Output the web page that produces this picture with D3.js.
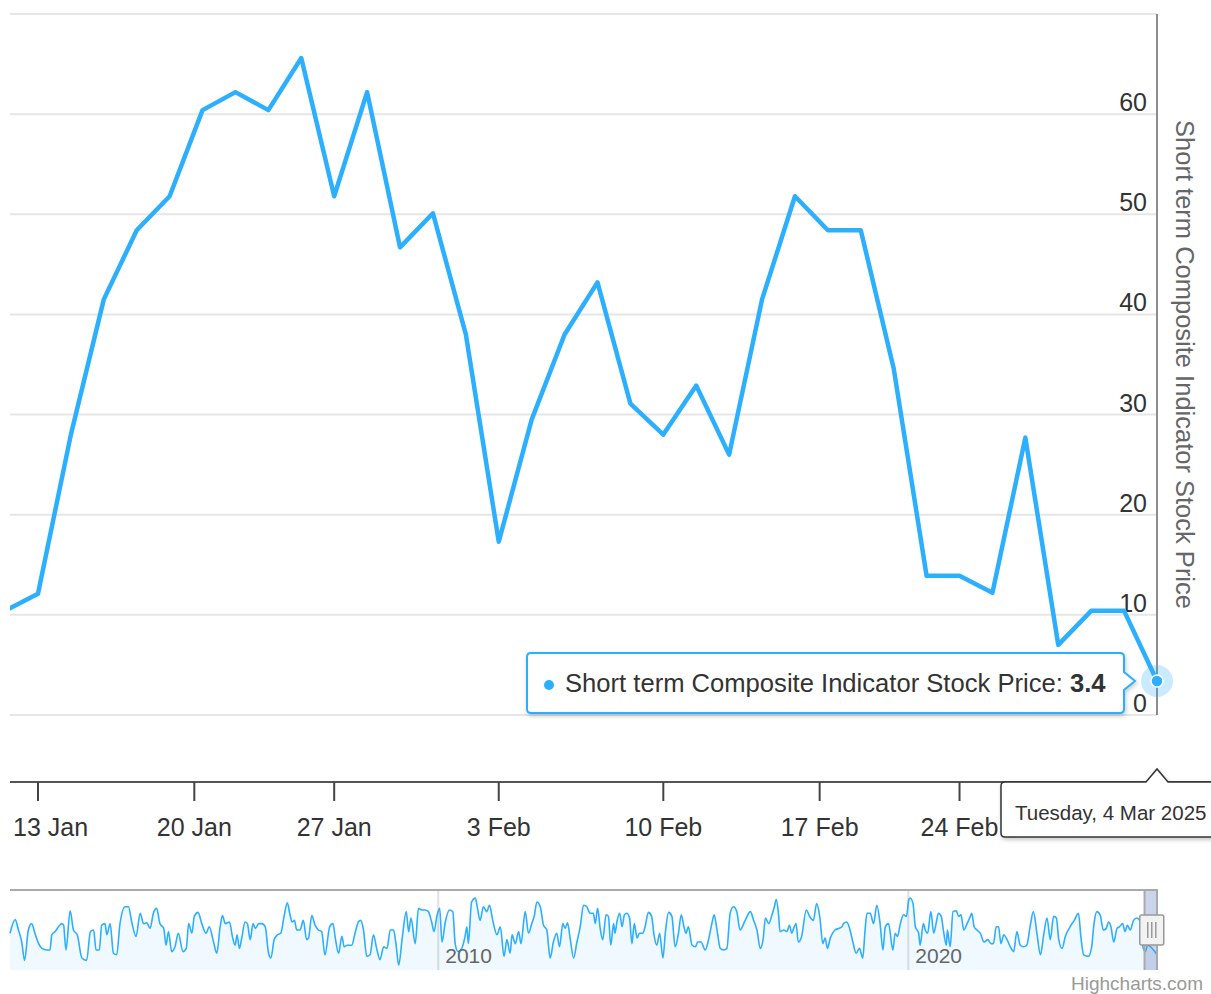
<!DOCTYPE html>
<html><head><meta charset="utf-8">
<script src="https://cdn.jsdelivr.net/npm/d3@7"></script>
<style>
html,body{margin:0;padding:0;background:#fff;}
svg{display:block;font-family:"Liberation Sans",Arial,Helvetica,sans-serif;}
</style></head><body>
<svg id="c" width="1211" height="994"></svg>
<script>
// ---- main series (trading days) ----
const dates = ["2025-01-10","2025-01-13","2025-01-14","2025-01-15","2025-01-16","2025-01-17","2025-01-21","2025-01-22","2025-01-23","2025-01-24","2025-01-27","2025-01-28","2025-01-29","2025-01-30","2025-01-31","2025-02-03","2025-02-04","2025-02-05","2025-02-06","2025-02-07","2025-02-10","2025-02-11","2025-02-12","2025-02-13","2025-02-14","2025-02-18","2025-02-19","2025-02-20","2025-02-21","2025-02-24","2025-02-25","2025-02-26","2025-02-27","2025-02-28","2025-03-03","2025-03-04"];
const values = [10.4,12.1,28.0,41.5,48.4,51.8,60.4,62.2,60.4,65.6,51.8,62.2,46.7,50.1,38.0,17.3,29.5,38.0,43.2,31.1,28.0,32.9,26.0,41.5,51.8,48.4,48.4,34.6,13.9,13.9,12.2,27.7,7.0,10.4,10.4,3.4];
const seriesName = "Short term Composite Indicator Stock Price";
const xTickDates = ["2025-01-13","2025-01-20","2025-01-27","2025-02-03","2025-02-10","2025-02-17","2025-02-24"];
const yGridTicks = [0,10,20,30,40,50,60,70];
const yLabelTicks = [0,10,20,30,40,50,60];

// ---- navigator series (decimal years, values) ----
const navYear = [2000.89,2001.00,2001.07,2001.14,2001.20,2001.28,2001.35,2001.42,2001.50,2001.57,2001.67,2001.74,2001.78,2001.85,2001.92,2001.99,2002.03,2002.08,2002.17,2002.24,2002.32,2002.42,2002.52,2002.60,2002.67,2002.72,2002.79,2002.84,2002.91,2002.95,2003.02,2003.09,2003.16,2003.23,2003.34,2003.41,2003.48,2003.57,2003.66,2003.73,2003.80,2003.87,2003.94,2004.01,2004.08,2004.16,2004.21,2004.26,2004.33,2004.40,2004.47,2004.57,2004.64,2004.69,2004.76,2004.81,2004.89,2004.97,2005.06,2005.13,2005.22,2005.29,2005.36,2005.41,2005.47,2005.56,2005.62,2005.68,2005.72,2005.77,2005.82,2005.89,2005.94,2006.00,2006.06,2006.11,2006.18,2006.25,2006.32,2006.39,2006.44,2006.51,2006.58,2006.65,2006.72,2006.79,2006.84,2006.89,2006.94,2006.99,
2007.06,2007.13,2007.20,2007.24,2007.31,2007.38,2007.45,2007.52,2007.59,2007.69,2007.76,2007.81,2007.88,2007.95,2008.00,2008.06,2008.16,2008.23,2008.30,2008.35,2008.41,2008.48,2008.55,2008.62,2008.69,2008.76,2008.84,2008.91,2008.98,2009.05,2009.10,2009.16,2009.23,2009.32,2009.37,2009.42,2009.51,2009.58,2009.65,2009.72,2009.79,2009.86,2009.91,2009.97,2010.03,2010.08,2010.15,2010.24,2010.31,2010.36,2010.42,2010.50,2010.57,2010.61,2010.64,2010.71,2010.79,2010.83,2010.89,2010.96,2011.03,2011.09,2011.16,2011.25,2011.32,2011.40,2011.46,2011.53,2011.57,2011.64,2011.71,2011.76,2011.85,2011.92,2011.99,2012.04,2012.10,2012.17,2012.24,2012.31,2012.38,2012.45,2012.52,2012.58,2012.65,2012.70,2012.75,2012.81,2012.88,2012.95,2013.02,2013.09,2013.16,2013.23,
2013.30,2013.34,2013.39,2013.45,2013.50,2013.57,2013.62,2013.67,2013.73,2013.76,2013.80,2013.86,2013.91,2013.96,2014.01,2014.07,2014.12,2014.17,2014.23,2014.28,2014.35,2014.40,2014.47,2014.54,2014.59,2014.65,2014.71,2014.78,2014.83,2014.90,2014.97,2015.04,2015.11,2015.17,2015.22,2015.27,2015.32,2015.40,2015.47,2015.52,2015.59,2015.68,2015.75,2015.82,2015.87,2015.93,2016.00,2016.07,2016.14,2016.21,2016.28,2016.35,2016.42,2016.53,2016.64,2016.71,2016.78,2016.85,2016.91,2016.96,2017.03,2017.10,2017.15,2017.19,2017.24,2017.27,2017.35,2017.42,2017.47,2017.52,2017.56,2017.61,2017.66,2017.73,2017.83,2017.90,2017.98,2018.05,2018.12,2018.18,2018.23,2018.28,2018.34,2018.39,2018.44,2018.52,2018.59,2018.62,2018.69,2018.76,2018.82,2018.89,2018.96,2019.03,2019.08,2019.12,2019.19,2019.26,2019.33,2019.40,
2019.46,2019.51,2019.58,2019.67,2019.72,2019.77,2019.83,2019.90,2019.96,2020.01,2020.04,2020.10,2020.15,2020.22,2020.25,2020.32,2020.36,2020.41,2020.48,2020.54,2020.59,2020.64,2020.70,2020.75,2020.81,2020.83,2020.89,2020.95,2021.02,2021.07,2021.12,2021.18,2021.25,2021.32,2021.35,2021.40,2021.46,2021.53,2021.61,2021.69,2021.76,2021.81,2021.87,2021.92,2021.97,2022.03,2022.10,2022.17,2022.24,2022.31,2022.38,2022.45,2022.52,2022.59,2022.66,2022.74,2022.81,2022.88,2022.95,2023.02,2023.09,2023.15,2023.20,2023.27,2023.34,2023.44,2023.53,2023.62,2023.67,2023.73,2023.83,2023.90,2023.95,2024.01,2024.08,2024.15,2024.21,2024.26,2024.31,2024.37,2024.44,2024.49,2024.56,2024.61,2024.66,2024.72,2024.79,2024.86,2024.92,2024.99,2025.04,2025.09,2025.29];
const navValue = [46,63,50,35,12,50,58,46,33,27,25,25,44,48,54,58,56,25,74,50,44,15,12,48,50,25,25,56,58,44,58,21,19,58,79,79,60,42,71,58,59,52,71,77,58,52,31,48,23,29,46,23,27,58,46,67,72,58,46,54,35,21,54,68,58,60,42,31,44,27,40,60,58,38,58,52,58,58,54,21,15,38,44,46,67,84,71,60,62,50,
50,62,38,40,68,56,50,48,19,54,58,40,21,42,29,31,31,46,60,62,50,17,19,44,27,13,29,27,50,50,33,6,38,73,48,65,33,77,75,75,73,60,48,67,77,35,60,75,73,33,23,27,42,54,33,85,90,79,62,79,73,81,62,44,54,17,38,21,44,33,48,33,73,46,58,67,85,79,56,50,15,35,46,29,58,52,59,38,15,35,54,81,79,71,
71,58,77,50,38,69,67,31,58,46,60,71,54,69,71,65,33,58,40,46,46,54,72,67,44,31,46,15,46,72,67,29,46,69,56,46,54,31,29,35,35,25,38,58,69,50,27,25,27,71,79,73,50,62,73,62,50,27,38,65,58,69,79,88,69,48,50,48,56,46,52,58,35,42,75,67,62,83,65,33,40,27,40,46,50,52,54,58,60,50,35,21,27,15,50,71,71,58,81,58,
25,54,58,25,46,42,58,69,67,88,90,83,54,46,31,58,50,46,73,46,58,71,67,48,31,50,29,73,74,67,69,50,58,67,71,54,50,46,35,38,33,33,54,54,33,44,38,29,23,48,31,29,31,54,73,44,19,44,65,38,67,65,38,27,42,54,62,71,42,19,17,29,58,73,69,50,52,60,54,35,52,54,58,48,56,50,62,65,62,29,23,31,19];
const navYearTicks = [2010, 2020];

// ---- layout ----
const W = 1211, H = 994;
const plot = {left: 10, right: 1157, top: 14, bottom: 715};
const xAxisY = 782;
const nav = {top: 890, bottom: 970};
const COLOR = "#2caffe";

const svg = d3.select("#c");
const defs = svg.append("defs");
defs.append("clipPath").attr("id","plotclip").append("rect")
  .attr("x", plot.left).attr("y", 0).attr("width", plot.right - plot.left + 1).attr("height", plot.bottom + 30);
const f = defs.append("filter").attr("id","shadow").attr("x","-10%").attr("y","-30%").attr("width","130%").attr("height","170%");
f.append("feDropShadow").attr("dx",1).attr("dy",2).attr("stdDeviation",2).attr("flood-color","#000").attr("flood-opacity",0.22);

const parse = d3.utcParse("%Y-%m-%d");
const dateObjs = dates.map(parse);
// ordinal (trading-day) axis: date -> point index, then index -> pixels
const ordinal = d3.scaleLinear().domain(dateObjs.map(d => +d)).range(d3.range(dates.length));
const xIdx = d3.scaleLinear().domain([0.15, dates.length - 1]).range([plot.left, plot.right]);
const x = d => xIdx(ordinal(+d));
const y = d3.scaleLinear().domain([0, 70]).range([plot.bottom, plot.top]);

// grid lines
svg.append("g").selectAll("line").data(yGridTicks).join("line")
  .attr("x1", plot.left).attr("x2", plot.right)
  .attr("y1", d => y(d)).attr("y2", d => y(d))
  .attr("stroke", "#e6e6e6").attr("stroke-width", 2);

// y axis line (opposite)
svg.append("line").attr("x1", plot.right).attr("x2", plot.right)
  .attr("y1", plot.top).attr("y2", plot.bottom)
  .attr("stroke", "#8c8c8c").attr("stroke-width", 2);

// y labels
svg.append("g").selectAll("text").data(yLabelTicks).join("text")
  .attr("x", plot.right - 10).attr("y", d => y(d) - 3)
  .attr("text-anchor", "end").attr("font-size", 25).attr("fill", "#333")
  .text(d => d);

// y title
svg.append("text")
  .attr("transform", `translate(${plot.right + 19},${(plot.top + plot.bottom) / 2}) rotate(90)`)
  .attr("text-anchor", "middle").attr("font-size", 25.5).attr("fill", "#666")
  .text(seriesName);

// line
const lineGen = d3.line().x((d, i) => x(dateObjs[i])).y(d => y(d));
svg.append("path").datum(values).attr("clip-path", "url(#plotclip)")
  .attr("d", lineGen).attr("fill", "none").attr("stroke", COLOR)
  .attr("stroke-width", 4.5).attr("stroke-linejoin", "round").attr("stroke-linecap", "round");

// x axis
svg.append("line").attr("x1", plot.left).attr("x2", W).attr("y1", xAxisY).attr("y2", xAxisY)
  .attr("stroke", "#555").attr("stroke-width", 2);
const xt = svg.append("g").selectAll("g").data(xTickDates.map(parse)).join("g");
xt.append("line").attr("x1", d => x(d)).attr("x2", d => x(d)).attr("y1", xAxisY).attr("y2", xAxisY + 19)
  .attr("stroke", "#444").attr("stroke-width", 2);
const fmt = d3.utcFormat("%-d %b");
xt.append("text").attr("y", xAxisY + 54).attr("font-size", 25).attr("fill", "#333")
  .attr("text-anchor", "middle").text(d => fmt(d))
  .attr("x", function(d) {
    const w = this.getComputedTextLength();
    return Math.max(x(d), 13 + w / 2);
  });

// ---- navigator ----
const nx = d3.scaleLinear().domain([navYear[0], navYear[navYear.length - 1]]).range([plot.left, plot.right]);
const ny = d3.scaleLinear().domain([0, 100]).range([nav.bottom, nav.top]);
svg.append("g").selectAll("line").data(navYearTicks).join("line")
  .attr("x1", d => nx(d)).attr("x2", d => nx(d)).attr("y1", nav.top).attr("y2", nav.bottom)
  .attr("stroke", "#e0e0e0").attr("stroke-width", 2);
const navPts = navYear.map((t, i) => [t, navValue[i]]);
svg.append("path").datum(navPts)
  .attr("d", d3.area().x(d => nx(d[0])).y0(nav.bottom).y1(d => ny(d[1])).curve(d3.curveMonotoneX))
  .attr("fill", COLOR).attr("fill-opacity", 0.07);
svg.append("path").datum(navPts)
  .attr("d", d3.line().x(d => nx(d[0])).y(d => ny(d[1])).curve(d3.curveMonotoneX))
  .attr("fill", "none").attr("stroke", COLOR).attr("stroke-width", 1.6);
svg.append("g").selectAll("text").data(navYearTicks).join("text")
  .attr("x", d => nx(d) + 7).attr("y", nav.bottom - 7)
  .attr("font-size", 21).attr("fill", "#666").text(d => d);

// selected range mask
const dec = d => d.getUTCFullYear() + (d3.utcDay.count(d3.utcYear(d), d)) / 365;
const mx0 = nx(dec(dateObjs[0])), mx1 = plot.right;
svg.append("rect").attr("x", mx0).attr("y", nav.top).attr("width", mx1 - mx0).attr("height", nav.bottom - nav.top)
  .attr("fill", "rgba(102,133,194,0.35)");
svg.append("path")
  .attr("d", `M${plot.left},${nav.top}H${mx0}V${nav.bottom}M${mx0},${nav.top}H${mx1}V${nav.bottom}`)
  .attr("fill", "none").attr("stroke", "#aaa").attr("stroke-width", 2);
// handle
const hc = (mx0 + mx1) / 2 + 1;
svg.append("rect").attr("x", hc - 12).attr("y", 915).attr("width", 24).attr("height", 30).attr("rx", 2)
  .attr("fill", "#f2f2f2").attr("stroke", "#999").attr("stroke-width", 1.5);
svg.append("g").selectAll("line").data([-4, 0, 4]).join("line")
  .attr("x1", d => hc + d).attr("x2", d => hc + d).attr("y1", 922).attr("y2", 938)
  .attr("stroke", "#999").attr("stroke-width", 1.5);

// ---- hover state on last point ----
const li = values.length - 1;
const px = x(dateObjs[li]), py = y(values[li]);
svg.append("circle").attr("cx", px).attr("cy", py).attr("r", 16).attr("fill", COLOR).attr("fill-opacity", 0.25);
svg.append("circle").attr("cx", px).attr("cy", py).attr("r", 6).attr("fill", COLOR).attr("stroke", "#fff").attr("stroke-width", 1.5);

// x-axis date label (crosshair label)
const bx0 = px - 156, bx1 = W + 10, by0 = xAxisY, by1 = xAxisY + 55;
svg.append("path")
  .attr("d", `M${bx0 + 4},${by0}H${px - 11}L${px},${by0 - 13}L${px + 11},${by0}H${bx1}V${by1}H${bx0 + 4}Q${bx0},${by1} ${bx0},${by1 - 4}V${by0 + 4}Q${bx0},${by0} ${bx0 + 4},${by0}Z`)
  .attr("fill", "#fff").attr("stroke", "#333").attr("stroke-width", 1.5).attr("filter", "url(#shadow)");
svg.append("text").attr("x", bx0 + 14).attr("y", by0 + 38).attr("font-size", 20.5).attr("fill", "#333")
  .text(d3.utcFormat("%A, %-d %b %Y")(dateObjs[li]));

// series tooltip
const tx1 = px - 33, tx0 = px - 630, ty0 = py - 28, ty1 = py + 32;
svg.append("path")
  .attr("d", `M${tx0 + 4},${ty0}H${tx1 - 4}Q${tx1},${ty0} ${tx1},${ty0 + 4}V${py - 9}L${tx1 + 11},${py}L${tx1},${py + 9}V${ty1 - 4}Q${tx1},${ty1} ${tx1 - 4},${ty1}H${tx0 + 4}Q${tx0},${ty1} ${tx0},${ty1 - 4}V${ty0 + 4}Q${tx0},${ty0} ${tx0 + 4},${ty0}Z`)
  .attr("fill", "#fff").attr("stroke", COLOR).attr("stroke-width", 2).attr("filter", "url(#shadow)");
svg.append("circle").attr("cx", tx0 + 22).attr("cy", py + 4).attr("r", 5).attr("fill", COLOR);
const tt = svg.append("text").attr("x", tx0 + 38).attr("y", py + 11).attr("font-size", 25.6).attr("fill", "#333");
tt.append("tspan").text(seriesName + ": ");
tt.append("tspan").attr("font-weight", "bold").text(values[li]);

// credits
svg.append("text").attr("x", W - 8).attr("y", H - 4).attr("text-anchor", "end")
  .attr("font-size", 19).attr("fill", "#999").text("Highcharts.com");
</script>
</body></html>
